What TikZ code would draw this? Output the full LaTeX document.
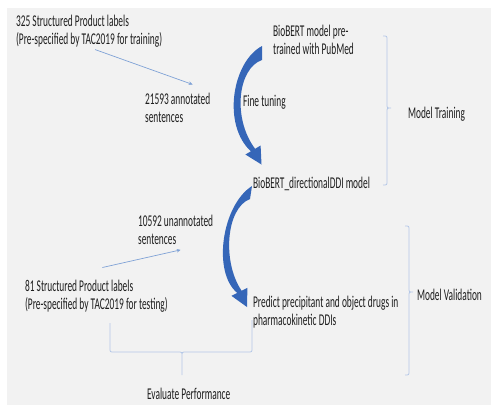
\documentclass[tikz,border=0pt]{standalone}
\usepackage{fontspec}
\setmainfont{Carlito}
\usepackage{tikz}
\usetikzlibrary{calc, arrows.meta}
\definecolor{bgGray}{HTML}{F2F2F2}
\definecolor{arrowBlue}{HTML}{3566B8}
\definecolor{lineBlue}{HTML}{7FA2D6}
\definecolor{braceBlue}{HTML}{B4C7E7}
\definecolor{textGray}{HTML}{1E1E1E}

\begin{document}
\begin{tikzpicture}[x=1bp, y=-1bp,
    txt/.style={font=\fontsize{16.5}{18.5}\selectfont, text=textGray, align=left,
        inner sep=0pt, anchor=north west, xscale=0.57},
    thinarrow/.style={lineBlue, line width=0.7bp, -{Stealth[length=4bp, width=3.5bp]}},
    bracket/.style={braceBlue, line width=0.8bp},
    bigarrow/.style={fill=arrowBlue, draw=none}]
    \useasboundingbox (0,0) rectangle (491,405);
    \fill[white] (0,0) rectangle (491,405);
    \fill[bgGray] (7,8) rectangle (491,405);

    % training side
    \node[txt] (srcTrain) at (16,14.5) {325 Structured Product labels\\(Pre-specified by TAC2019 for training)};
    \node[txt] (annSent) at (145,92.5) {21593 annotated\\sentences};
    \node[txt] (bioBert) at (273,24.5) {BioBERT model pre-\\trained with PubMed};
    \node[txt] (fineTune) at (243,94.5) {Fine tuning};
    \node[txt] (modelTrain) at (408,106.5) {Model Training};
    \node[txt] (ddiModel) at (253,176.5) {BioBERT\_directionalDDI model};

    % validation side
    \node[txt] (unannSent) at (138,214.5) {10592 unannotated\\sentences};
    \node[txt] (srcTest) at (25,279.5) {81 Structured Product labels\\(Pre-specified by TAC2019 for testing)};
    \node[txt] (predict) at (253,295.5) {Predict precipitant and object drugs in\\pharmacokinetic DDIs};
    \node[txt] (modelVal) at (417,288.5) {Model Validation};
    \node[txt] (evalPerf) at (147,387.5) {Evaluate Performance};

    \draw[thinarrow] ($(srcTrain.south)+(6,2)$) -- ($(annSent.north)+(15,-8)$);
    \draw[thinarrow] ($(srcTest.north)+(6,-12)$) -- ($(unannSent.south)+(5,5)$);

    % curved block arrows
    \fill[bigarrow] (262,46) .. controls (232,62) and (222,125) .. (250.9,151.3)
        -- (245.4,154.5) -- (261.5,164.5) -- (260.6,145.5) -- (255.1,148.8)
        .. controls (232,118) and (238,68) .. (262,60) -- cycle;
    \fill[bigarrow] (252,186) .. controls (222,205) and (212,272) .. (237.2,292.9)
        -- (231.4,295.8) -- (247,307) -- (247.4,287.8) -- (241.6,290.7)
        .. controls (222,262) and (226,208) .. (250,199) -- cycle;

    % braces
    \draw[bracket] (383,36) .. controls (387,36) .. (387,40) -- (387,104)
        .. controls (387,108) .. (391,108) .. controls (387,108) .. (387,112)
        -- (387,181) .. controls (387,185) .. (383,185);
    \draw[bracket] (405,226) .. controls (409,226) .. (409,230) -- (409,288)
        .. controls (409,292) .. (413,292) .. controls (409,292) .. (409,296)
        -- (409,371) .. controls (409,375) .. (405,375);
    \draw[bracket] (110,323) -- (110,348) .. controls (110,352) .. (114,352) -- (178,352)
        .. controls (182,352) .. (182,356) -- (182,375)
        (182,356) .. controls (182,352) .. (186,352) -- (248,352)
        .. controls (252,352) .. (252,348) -- (252,320);
\end{tikzpicture}
\end{document}
